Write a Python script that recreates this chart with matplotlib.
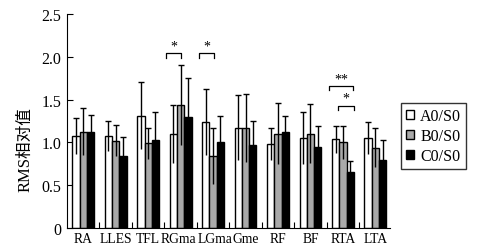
import numpy as np
import matplotlib
matplotlib.use("Agg")
import matplotlib.pyplot as plt

plt.rcParams['font.family'] = ['Liberation Serif', 'Noto Sans CJK SC', 'DejaVu Sans']

muscles = ["RA", "LLES", "TFL", "RGma", "LGma", "Gme", "RF", "BF", "RTA", "LTA"]
series = ["A0/S0", "B0/S0", "C0/S0"]

mean_a = [1.075, 1.075, 1.31, 1.10, 1.235, 1.17, 0.985, 1.05, 1.035, 1.05]
sd_a = [0.205, 0.175, 0.39, 0.34, 0.385, 0.38, 0.185, 0.30, 0.16, 0.185]
mean_b = [1.125, 1.02, 0.99, 1.44, 0.84, 1.17, 1.10, 1.10, 1.00, 0.94]
sd_b = [0.275, 0.18, 0.18, 0.47, 0.325, 0.40, 0.355, 0.345, 0.19, 0.225]
mean_c = [1.12, 0.845, 1.03, 1.30, 1.00, 0.97, 1.12, 0.95, 0.655, 0.80]
sd_c = [0.20, 0.215, 0.325, 0.455, 0.305, 0.275, 0.19, 0.24, 0.125, 0.225]

# significance brackets: group index, x from, x to (offset from group centre), y, label
sig_group = [3, 4, 8, 8]
sig_x0 = [-0.45, -0.44, -0.42, -0.145]
sig_x1 = [0.02, 0.03, 0.32, 0.34]
sig_y = [2.04, 2.04, 1.66, 1.43]
sig_text = ["*", "*", "**", "*"]

fig = plt.figure(figsize=(4.81, 2.53), dpi=100)
ax = fig.add_axes([67/481, 1-229/253, (390-67)/481, (229-15)/253])

x = np.arange(len(muscles))
w = 0.225
colors = ["white", "#a9a9a9", "black"]
means = [mean_a, mean_b, mean_c]
sds = [sd_a, sd_b, sd_c]

for k in range(3):
    xs = x + (k - 1) * w
    m = np.array(means[k])
    s = np.array(sds[k])
    ax.bar(xs, m, width=w, color=colors[k], edgecolor="black", linewidth=1.0,
           label=series[k], zorder=2)
    ax.errorbar(xs, m, yerr=s, fmt="none", ecolor="black", elinewidth=1.0,
                capsize=0, zorder=3)
    ax.plot(xs, m + s, ls="none", marker="_", ms=5, mew=1.0, color="black", zorder=3)

for g, a, b, y, t in zip(sig_group, sig_x0, sig_x1, sig_y, sig_text):
    ax.plot([g + a, g + a, g + b, g + b], [y - 0.05, y, y, y - 0.05],
            color="black", lw=0.9)
    ax.text(g + (a + b) / 2, y + 0.01, t, ha="center", va="bottom", fontsize=10)

# labels of the crowded middle groups nudged apart a little
label_pos = x.astype(float)
label_pos[3] -= 0.08
label_pos[4] += 0.07

ax.set_xlim(-0.5, 9.45)
ax.set_ylim(0, 2.5)
ax.set_yticks([0, 0.5, 1.0, 1.5, 2.0, 2.5])
ax.set_yticklabels(["0", "0.5", "1.0", "1.5", "2.0", "2.5"])
ax.set_xticks(label_pos)
ax.set_xticklabels(muscles)
ax.set_xticks(x[:-1] + 0.5, minor=True)
ax.tick_params(axis="x", which="major", length=0, labelsize=9.8, pad=3)
ax.tick_params(axis="x", which="minor", direction="in", length=4, width=0.8)
ax.tick_params(axis="y", direction="in", length=4, width=0.8, labelsize=11.5, pad=4)
ax.spines["top"].set_visible(False)
ax.spines["right"].set_visible(False)
ax.set_ylabel("RMS相对值", fontsize=12)
ax.yaxis.set_label_coords(-0.105, 0.37)

fig.legend(loc="upper left", bbox_to_anchor=(393/481, 1-96/253), fontsize=11.5,
           frameon=True, fancybox=False, edgecolor="black", handlelength=0.5,
           handleheight=0.5, handletextpad=0.4, borderpad=0.3, labelspacing=0.25)

fig.savefig("out.png", dpi=100)
plt.close(fig)
